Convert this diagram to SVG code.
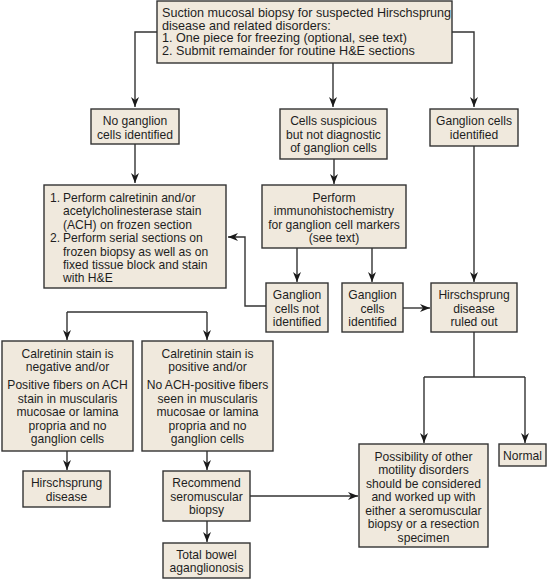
<svg xmlns="http://www.w3.org/2000/svg" width="551" height="579" viewBox="0 0 551 579">
<defs>
<marker id="ah" markerUnits="userSpaceOnUse" markerWidth="10" markerHeight="8" refX="10" refY="4" orient="auto">
<path d="M0,0 L10,4 L0,8 L3,4 z" fill="#1a1a1a"/>
</marker>
<style>
rect{fill:#f0e9dd;stroke:#333;stroke-width:1.4}
text{font-family:"Liberation Sans",Arial,sans-serif;font-size:12.1px;fill:#1e1e1e}
.c{text-anchor:middle}
.t{font-size:12.6px}
#connectors path{fill:none;stroke:#333;stroke-width:1.4}
.a{marker-end:url(#ah)}
</style>
</defs>
<rect x="0" y="0" width="551" height="579" style="fill:#fff;stroke:none"/>
<g id="connectors">
<path class="a" d="M157,32 H135 V107"/>
<path class="a" d="M333,63 V107"/>
<path class="a" d="M452,32 H474 V107"/>
<path class="a" d="M135,144 V183"/>
<path class="a" d="M334,159 V184"/>
<path class="a" d="M297,248 V282"/>
<path class="a" d="M372,248 V282"/>
<path class="a" d="M474,146 V282"/>
<path class="a" d="M266,306 H245 V237 H228"/>
<path class="a" d="M403,308 H430"/>
<path d="M474,332 V377 M424,377 H525"/>
<path class="a" d="M424,377 V443"/>
<path class="a" d="M525,377 V443"/>
<path d="M67,312 H207"/>
<path class="a" d="M67,312 V340"/>
<path class="a" d="M207,312 V340"/>
<path class="a" d="M67,451 V470"/>
<path class="a" d="M207,451 V470"/>
<path class="a" d="M207,521 V542"/>
<path class="a" d="M250,496 H358"/>
</g>
<g id="start">
<rect x="157" y="1" width="295" height="62"/>
<text class="t" x="162" y="17">Suction mucosal biopsy for suspected Hirschsprung</text>
<text class="t" x="162" y="29.5">disease and related disorders:</text>
<text class="t" x="162" y="42">1. One piece for freezing (optional, see text)</text>
<text class="t" x="162" y="54.5">2. Submit remainder for routine H&amp;E sections</text>
</g>
<g id="no-ganglion">
<rect x="91" y="109" width="88" height="35"/>
<text class="c" x="135" y="125">No ganglion</text>
<text class="c" x="135" y="138.5">cells identified</text>
</g>
<g id="suspicious">
<rect x="280" y="109" width="107" height="50"/>
<text class="c" x="333.5" y="125">Cells suspicious</text>
<text class="c" x="333.5" y="138.5">but not diagnostic</text>
<text class="c" x="333.5" y="152">of ganglion cells</text>
</g>
<g id="ganglion-identified">
<rect x="430" y="109" width="88" height="37"/>
<text class="c" x="474" y="125">Ganglion cells</text>
<text class="c" x="474" y="138.5">identified</text>
</g>
<g id="calretinin-stain">
<rect x="44" y="185" width="182" height="103"/>
<text x="50" y="201.5">1.</text>
<text x="63" y="201.5">Perform calretinin and/or</text>
<text x="63" y="215">acetylcholinesterase stain</text>
<text x="63" y="228.5">(ACH) on frozen section</text>
<text x="50" y="242">2.</text>
<text x="63" y="242">Perform serial sections on</text>
<text x="63" y="255.5">frozen biopsy as well as on</text>
<text x="63" y="269">fixed tissue block and stain</text>
<text x="63" y="282">with H&amp;E</text>
</g>
<g id="immuno">
<rect x="262" y="185" width="144" height="63"/>
<text class="c" x="334" y="201.5">Perform</text>
<text class="c" x="334" y="215">immunohistochemistry</text>
<text class="c" x="334" y="228.5">for ganglion cell markers</text>
<text class="c" x="334" y="242">(see text)</text>
</g>
<g id="not-identified">
<rect x="266" y="283" width="62" height="49"/>
<text class="c" x="297" y="299">Ganglion</text>
<text class="c" x="297" y="312.5">cells not</text>
<text class="c" x="297" y="326">identified</text>
</g>
<g id="identified2">
<rect x="342" y="283" width="61" height="49"/>
<text class="c" x="372.5" y="299">Ganglion</text>
<text class="c" x="372.5" y="312.5">cells</text>
<text class="c" x="372.5" y="326">identified</text>
</g>
<g id="ruled-out">
<rect x="431" y="283" width="86" height="49"/>
<text class="c" x="474" y="299">Hirschsprung</text>
<text class="c" x="474" y="312.5">disease</text>
<text class="c" x="474" y="326">ruled out</text>
</g>
<g id="negative">
<rect x="2" y="341" width="131" height="110"/>
<text class="c" x="67.5" y="357.5">Calretinin stain is</text>
<text class="c" x="67.5" y="371">negative and/or</text>
<text class="c" x="67.5" y="389">Positive fibers on ACH</text>
<text class="c" x="67.5" y="402.5">stain in muscularis</text>
<text class="c" x="67.5" y="416">mucosae or lamina</text>
<text class="c" x="67.5" y="429.5">propria and no</text>
<text class="c" x="67.5" y="443">ganglion cells</text>
</g>
<g id="positive">
<rect x="142" y="341" width="131" height="110"/>
<text class="c" x="207.5" y="357.5">Calretinin stain is</text>
<text class="c" x="207.5" y="371">positive and/or</text>
<text class="c" x="207.5" y="389">No ACH-positive fibers</text>
<text class="c" x="207.5" y="402.5">seen in muscularis</text>
<text class="c" x="207.5" y="416">mucosae or lamina</text>
<text class="c" x="207.5" y="429.5">propria and no</text>
<text class="c" x="207.5" y="443">ganglion cells</text>
</g>
<g id="hirschsprung">
<rect x="23" y="471" width="87" height="36"/>
<text class="c" x="66.5" y="487">Hirschsprung</text>
<text class="c" x="66.5" y="501">disease</text>
</g>
<g id="recommend">
<rect x="163" y="471" width="87" height="50"/>
<text class="c" x="206.5" y="487">Recommend</text>
<text class="c" x="206.5" y="500.5">seromuscular</text>
<text class="c" x="206.5" y="514">biopsy</text>
</g>
<g id="total">
<rect x="163" y="543" width="87" height="35"/>
<text class="c" x="206.5" y="558.5">Total bowel</text>
<text class="c" x="206.5" y="572">aganglionosis</text>
</g>
<g id="possibility">
<rect x="359" y="444" width="129" height="103"/>
<text class="c" x="423.5" y="460.5">Possibility of other</text>
<text class="c" x="423.5" y="474">motility disorders</text>
<text class="c" x="423.5" y="487.5">should be considered</text>
<text class="c" x="423.5" y="501">and worked up with</text>
<text class="c" x="423.5" y="514.5">either a seromuscular</text>
<text class="c" x="423.5" y="528">biopsy or a resection</text>
<text class="c" x="423.5" y="541.5">specimen</text>
</g>
<g id="normal">
<rect x="499" y="444" width="47" height="22"/>
<text class="c" x="522.5" y="459.5">Normal</text>
</g>
</svg>
